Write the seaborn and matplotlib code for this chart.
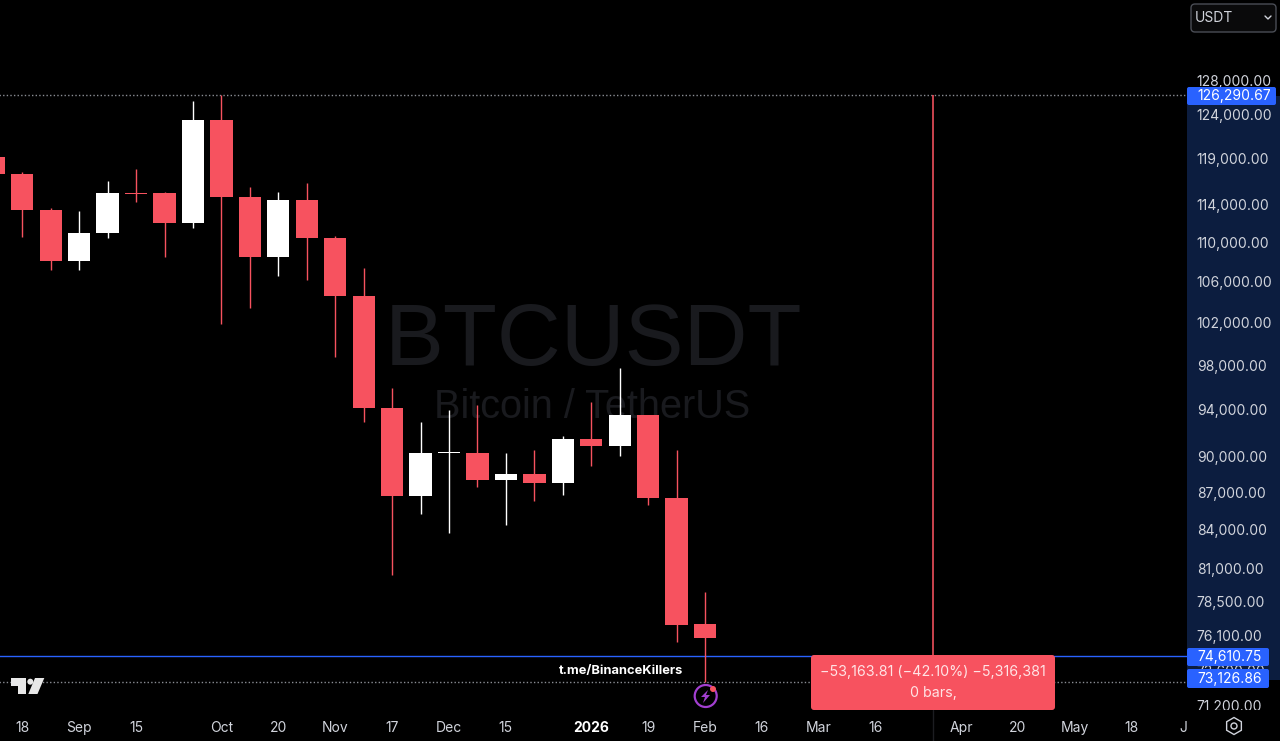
import numpy as np
import pandas as pd
import seaborn as sns
import matplotlib.pyplot as plt
from matplotlib.patches import Rectangle, FancyBboxPatch, Polygon, Circle, RegularPolygon
from matplotlib.lines import Line2D
from matplotlib.transforms import Affine2D, Bbox

# Weekly candles
weeks = list(range(-1, 25))
opens = [119222, 117337, 113405, 108080, 110950, 115240, 115176, 112000, 123365, 114830, 108547, 114443, 110437,
         104590, 94180, 86720, 90290, 90290, 88030, 88550, 87810, 91460, 90910, 93540, 86560, 76860]
closes = [117303, 113405, 108080, 111016, 115176, 115120, 112000, 123365, 114830, 108547, 114443, 110437, 104590,
          94180, 86720, 90290, 90380, 88030, 88550, 87810, 91460, 90910, 93540, 86560, 76840, 75860]
highs = [119222, 117490, 113586, 113300, 116535, 117820, 115337, 125620, 126290.67, 115880, 115302, 116285, 110675,
         107370, 95940, 92950, 94000, 94450, 90290, 90540, 91740, 94690, 97760, 93540, 90540, 79230]
lows = [117303, 110603, 107200, 107200, 110500, 114260, 108547, 111506, 101880, 103420, 106600, 106200, 98830,
        92950, 80510, 85220, 83750, 87480, 84380, 86320, 86750, 89220, 90060, 86000, 75630, 72850]

price_ticks = [128000, 124000, 119000, 114000, 110000, 106000, 102000, 98000, 94000, 90000, 87000, 84000, 81000,
               78500, 76100, 73600, 71200]
time_pos = [0, 2, 4, 7, 9, 11, 13, 15, 17, 20, 22, 24, 26, 28, 30, 33, 35, 37, 39, 40.8]
time_labels = ['18', 'Sep', '15', 'Oct', '20', 'Nov', '17', 'Dec', '15', '2026', '19', 'Feb', '16', 'Mar', '16',
               'Apr', '20', 'May', '18', 'J']

range_high = 126290.67
range_low = 74610.75
low_line = 72850
range_week = 32

RED = '#f7525f'
WHITE = '#ffffff'
BLUE = '#2962ff'
NAVY = '#0c1d3f'
GREY = '#d1d4dc'
FONT = 'Inter'

sns.set_theme(style='dark', rc={'axes.facecolor': 'black', 'figure.facecolor': 'black', 'axes.grid': False})
plt.rcParams['font.family'] = [FONT, 'DejaVu Sans']

fig = plt.figure(figsize=(12.8, 7.41), dpi=100)
# the axes start left of the figure so that the cut-off first candle still shows
ax = fig.add_axes([-30 / 1280, 31 / 741, 1217 / 1280, 710 / 741])

# pixel coordinates for the decorations of the trading screen
px = Affine2D().scale(1, -1).translate(0, 741)

# Reshape candles into two rows per wick
candles = pd.DataFrame({'week': weeks, 'open': opens, 'close': closes, 'high': highs, 'low': lows})
candles['side'] = np.where(candles['close'] > candles['open'], 'up', 'down')
candles['top'] = candles[['open', 'close']].max(axis=1)
candles['bottom'] = candles[['open', 'close']].min(axis=1)
wicks = candles.melt(id_vars=['week', 'side'], value_vars=['high', 'low'], value_name='price')
palette = {'up': WHITE, 'down': RED}

ax.set_yscale('log')

# Watermark
ax.text(593, 342.5, 'BTCUSDT', transform=px, ha='center', va='center', fontsize=63.6, color='#191a1e',
        family='Liberation Sans', zorder=0)
ax.text(592, 407, 'Bitcoin / TetherUS', transform=px, ha='center', va='center', fontsize=28.5, color='#191a1e',
        family='Liberation Sans', zorder=0)

sns.lineplot(data=wicks, x='week', y='price', units='week', hue='side', palette=palette, estimator=None, sort=False,
             linewidth=1.0, legend=False, ax=ax, zorder=3, solid_capstyle='butt')
ax.bar(candles['week'], candles['top'] - candles['bottom'], bottom=candles['bottom'], width=0.784,
       color=candles['side'].map(palette), linewidth=0, zorder=4)

# Price range tool and its lines
ax.axhline(range_high, color='#8a8d94', lw=1, ls=(0, (1, 1.6)), zorder=2)
ax.axhline(low_line, color='#8a8d94', lw=1, ls=(0, (1, 1.6)), zorder=2)
ax.axhline(range_low, color=BLUE, lw=1, zorder=2)
ax.vlines(range_week, range_low, range_high, color=RED, lw=1.15, zorder=2)

ax.set_xlim(-1.838, 40.94)
ax.set_ylim(70930, 138108)
ax.set_xlabel('')
ax.set_ylabel('')
for side in ['top', 'right', 'bottom', 'left']:
    ax.spines[side].set_visible(False)

ax.yaxis.tick_right()
ax.set_yticks(price_ticks)
ax.set_yticklabels([f'{p:,.2f}' for p in price_ticks])
ax.minorticks_off()
ax.tick_params(axis='y', length=0, pad=7, labelsize=10, labelcolor=GREY)
ax.set_xticks(time_pos)
ax.set_xticklabels(time_labels)
ax.tick_params(axis='x', length=0, pad=7.6, labelsize=10, labelcolor=GREY)
ax.get_xticklabels()[9].set_fontweight('bold')
ax.get_xticklabels()[9].set_color(WHITE)

# The lowest price label is cut by the time scale
clip = Bbox.from_extents(1187, 31, 1280, 741)
for lab in ax.get_yticklabels():
    lab.set_clip_box(clip)
    lab.set_clip_on(True)

ax.text(621, 671, 't.me/BinanceKillers', transform=px, ha='center', va='center', fontsize=9.3, color=WHITE,
        fontweight='bold', zorder=6)

# Navy band on the price scale
fig.add_artist(Rectangle((1187, 96), 93, 584, transform=px, fc=NAVY, ec='none', zorder=-1))

# Price badges
for y0, y1, x1, label in [(87, 105, 1276, '126,290.67'), (648, 666, 1269, '74,610.75'), (669, 688, 1269, '73,126.86')]:
    fig.add_artist(FancyBboxPatch((1187, y0), x1 - 1187, y1 - y0, boxstyle='round,pad=0,rounding_size=2', transform=px,
                                  fc=BLUE, ec='none', zorder=5))
    fig.text(1197, (y0 + y1) / 2, label, transform=px, ha='left', va='center', fontsize=10, color=WHITE, zorder=6)

# Measure box
fig.add_artist(FancyBboxPatch((811, 655), 244, 55, boxstyle='round,pad=0,rounding_size=3', transform=px,
                              fc=RED, ec='none', zorder=5))
fig.text(933, 672, '\u221253,163.81 (\u221242.10%) \u22125,316,381', transform=px, ha='center', va='center',
         fontsize=10.3, color='#ffe3e5', zorder=6)
fig.text(933, 693, '0 bars,', transform=px, ha='center', va='center', fontsize=10.3, color='#ffe3e5', zorder=6)

# Currency selector
fig.add_artist(FancyBboxPatch((1191, 4), 85, 28, boxstyle='round,pad=0,rounding_size=4', transform=px,
                              fc='#0a0a0b', ec='#4a4d55', lw=1, zorder=5))
fig.text(1195, 17.5, 'USDT', transform=px, ha='left', va='center', fontsize=10, color=GREY, zorder=6)
fig.add_artist(Line2D([1265, 1268, 1271], [16, 19, 16], transform=px, color=GREY, lw=1, zorder=6))

# Logo
logo = '#e8e8e8'
fig.add_artist(Polygon([(11, 678), (26, 678), (26, 694), (18, 694), (18, 686), (11, 686)], transform=px, fc=logo,
                       ec='none', zorder=5))
fig.add_artist(Circle((30.3, 681.7), 3, transform=px, fc=logo, ec='none', zorder=5))
fig.add_artist(Polygon([(35, 678), (44.3, 678), (37.5, 694), (28.3, 694)], transform=px, fc=logo, ec='none', zorder=5))

# Event icon under the last candle
fig.add_artist(Circle((705.7, 696), 11, transform=px, fc='black', ec='#a23fd0', lw=1.6, zorder=5))
fig.add_artist(Polygon([(708, 690), (701, 697), (705, 697), (703, 703), (710, 695), (706, 695)], transform=px,
                       fc='#a23fd0', ec='none', zorder=6))
fig.add_artist(Circle((713, 689), 3, transform=px, fc=RED, ec='none', zorder=6))

# Settings icon and the faint tick of the range tool
fig.add_artist(RegularPolygon((1234, 726), 6, radius=8.5, transform=px, fc='none', ec=GREY, lw=1, zorder=5))
fig.add_artist(Circle((1234, 726), 3, transform=px, fc='none', ec=GREY, lw=1, zorder=5))
fig.add_artist(Line2D([933, 933], [710, 741], transform=px, color='#1c1d21', lw=1, zorder=1))

plt.savefig('out.png', dpi=100)
plt.close()
